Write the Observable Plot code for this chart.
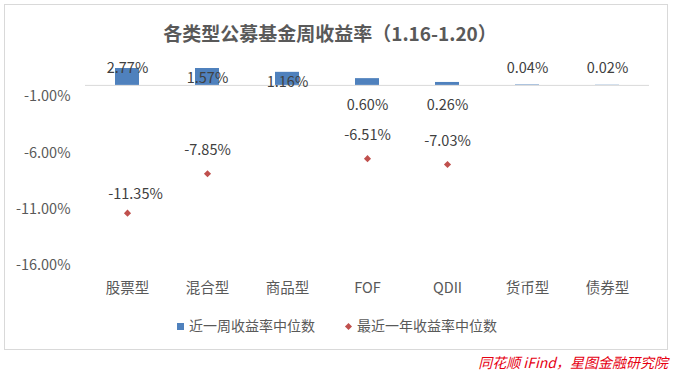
<!DOCTYPE html>
<html>
<head>
<meta charset="utf-8">
<script src="https://cdn.jsdelivr.net/npm/d3@7"></script>
<script src="https://cdn.jsdelivr.net/npm/@observablehq/plot@0.6"></script>
<style>
  body { margin: 0; background: #fff; font-family: "Noto Sans CJK SC", "Noto Sans", sans-serif; }
  #wrap { position: relative; width: 673px; height: 372px; overflow: hidden; }
  #chart { position: absolute; left: 0; top: 0; }
  #frame { position: absolute; left: 4px; top: 4px; width: 664px; height: 346px; box-sizing: border-box; border: 1px solid #d9d9d9; pointer-events: none; }
  #title { position: absolute; left: 0; width: 660px; top: 20px; text-align: center; font-size: 19px; font-weight: bold; color: #595959; line-height: 26px; }
  .leg { position: absolute; top: 316px; font-size: 14px; color: #595959; line-height: 18px; white-space: nowrap; }
  .sq { display: inline-block; width: 7px; height: 7px; background: #4F81BD; vertical-align: middle; margin-right: 5px; position: relative; top: -1px; }
  .dm { display: inline-block; width: 5px; height: 5px; background: #C0504D; transform: rotate(45deg); vertical-align: middle; margin-right: 6px; position: relative; top: -1px; }
  #source { position: absolute; right: 5px; top: 352px; font-size: 14px; font-style: italic; color: #e60012; line-height: 20px; white-space: nowrap; }
</style>
</head>
<body>
<div id="wrap">
  <div id="chart"></div>
  <div id="frame"></div>
  <div id="title">各类型公募基金周收益率（1.16-1.20）</div>
  <div class="leg" style="left:177px"><span class="sq"></span>近一周收益率中位数</div>
  <div class="leg" style="left:346px"><span class="dm"></span>最近一年收益率中位数</div>
  <div id="source">同花顺 iFind，星图金融研究院</div>
</div>
<script>
const categories = ["股票型", "混合型", "商品型", "FOF", "QDII", "货币型", "债券型"];
const weekReturn = [2.77, 1.57, 1.16, 0.60, 0.26, 0.04, 0.02];
const yearReturn = [-11.35, -7.85, null, -6.51, -7.03, null, null];
const yTicks = [-1, -6, -11, -16];

const data = categories.map((c, i) => ({cat: c, week: weekReturn[i], year: yearReturn[i]}));
const pts = data.filter(d => d.year != null);
const fmt = v => v.toFixed(2) + "%";
const labelFont = {fontSize: 14.5, fill: "#404040"};

const chart = Plot.plot({
  width: 673,
  height: 372,
  marginLeft: 85,
  marginRight: 24,
  marginTop: 68,
  marginBottom: 107,
  style: {fontFamily: '"Noto Sans CJK SC", "Noto Sans", sans-serif', background: "transparent", color: "#595959"},
  x: {type: "band", domain: categories, padding: 0, label: null},
  y: {domain: [-16, 1.5], label: null},
  marks: [
    Plot.axisY({ticks: yTicks, tickFormat: fmt, tickSize: 0, tickPadding: 15, fontSize: 14.5, fill: "#595959", label: null}),
    Plot.axisX({tickSize: 0, tickPadding: 17, fontSize: 14.5, fill: "#595959", label: null}),
    Plot.ruleY([0], {stroke: "#d9d9d9", strokeWidth: 1}),
    Plot.barY(data, {x: "cat", y: "week", fill: "#4F81BD", insetLeft: 28, insetRight: 28, clip: true}),
    Plot.dot(pts, {x: "cat", y: "year", symbol: "diamond2", r: 3.2, fill: "#C0504D", stroke: null}),
    // bar labels
    Plot.text(data.filter(d => d.week > 2 || d.week < 0.1), {x: "cat", frameAnchor: "top", text: d => fmt(d.week), lineAnchor: "middle", dy: 0, ...labelFont}),
    Plot.text(data.filter(d => d.week > 1 && d.week <= 2), {x: "cat", y: "week", text: d => fmt(d.week), lineAnchor: "middle", dy: 10.5, ...labelFont}),
    Plot.text(data.filter(d => d.week >= 0.1 && d.week <= 1), {x: "cat", y: () => 0, text: d => fmt(d.week), lineAnchor: "middle", dy: 20, ...labelFont}),
    // point labels
    Plot.text(pts.filter(d => d.year >= -10), {x: "cat", y: "year", text: d => fmt(d.year), lineAnchor: "middle", dy: -23.5, ...labelFont}),
    Plot.text(pts.filter(d => d.year < -10), {x: "cat", y: "year", text: d => fmt(d.year), lineAnchor: "middle", dy: -19, dx: 8, ...labelFont})
  ]
});
document.getElementById("chart").appendChild(chart);
</script>
</body>
</html>
